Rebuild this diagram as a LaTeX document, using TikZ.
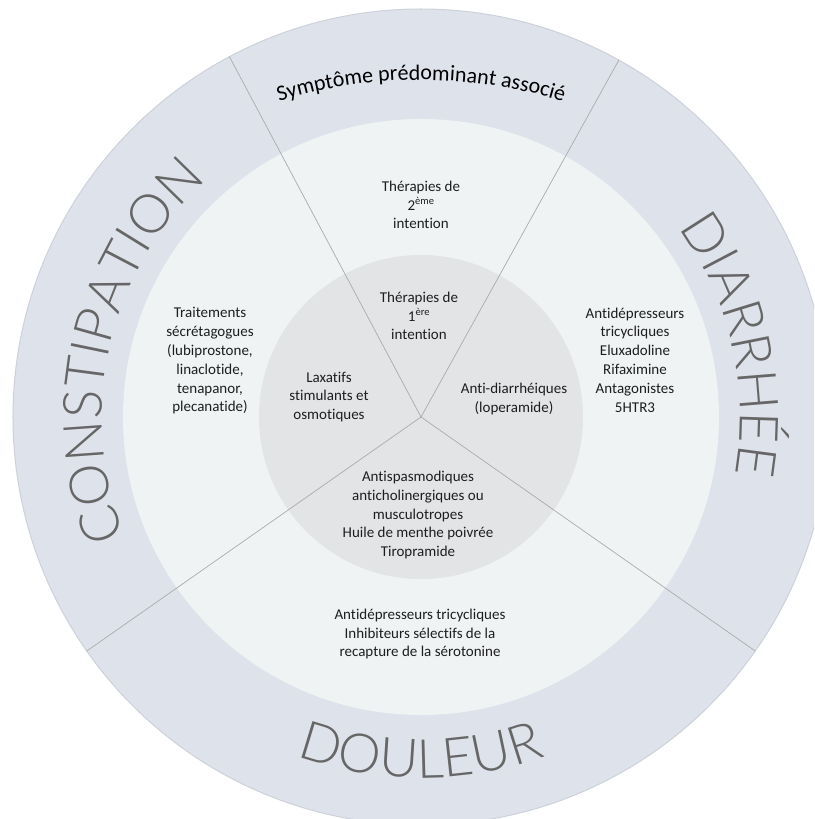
\documentclass[tikz,border=0pt]{standalone}
\usepackage{fontspec}
\setmainfont{Carlito}[Ligatures=NoCommon]
\newfontfamily\biglabelfont{Lato}[UprightFont=* Light, Ligatures=NoCommon, LetterSpace=1]
\usetikzlibrary{decorations.text}
\definecolor{ringout}{HTML}{DEE2EB}
\definecolor{ringedge}{HTML}{CDD1D9}
\definecolor{ringmid}{HTML}{EFF3F4}
\definecolor{ringin}{HTML}{E2E4E6}
\definecolor{spoke}{HTML}{ABABAB}
\definecolor{biglbl}{HTML}{666666}
\definecolor{bodytxt}{HTML}{1E1E1E}
\begin{document}
\begin{tikzpicture}[x=1pt,y=1pt,
  bodytext/.style={align=center, font=\fontsize{15}{18.8}\selectfont, text=bodytxt, inner sep=0pt},
  spokeline/.style={draw=spoke, line width=0.7pt},
]
\clip (-421,-402) rectangle (393,417);
\fill[white] (-421,-402) rectangle (393,417);
\coordinate (c) at (0,0);
% rings
\fill[ringout, draw=ringedge, line width=1pt] (c) circle (408);
\fill[ringmid] (c) circle (298);
\fill[ringin] (c) circle (162);
% spokes
\coordinate (s1) at (61:408);
\coordinate (s2) at (118:408);
\coordinate (s3) at (215:408);
\coordinate (s4) at (-35:408);
\draw[spokeline] (c) -- (s1);
\draw[spokeline] (c) -- (s2);
\draw[spokeline] (c) -- (s3);
\draw[spokeline] (c) -- (s4);
% curved labels
\path[decorate, decoration={text along path, text align=center,
  text={|\biglabelfont\fontsize{54}{60}\selectfont\color{biglbl}|CONSTIPATION}}]
  (214:319) arc[start angle=214, end angle=120, radius=319];
\path[decorate, decoration={text along path, text align=center,
  text={|\biglabelfont\fontsize{54}{60}\selectfont\color{biglbl}|DIARRHÉE}}]
  (59:319) arc[start angle=59, end angle=-33, radius=319];
\path[decorate, decoration={text along path, text align=center,
  text={|\biglabelfont\fontsize{54}{60}\selectfont\color{biglbl}|DOULEUR}}]
  (-128:361) arc[start angle=-128, end angle=-52, radius=361];
\path[decorate, decoration={text along path, text align=center,
  text={|\fontsize{22}{24}\selectfont\color{black}|Symptôme prédominant associé}}]
  (0,-143) ++(112:480) arc[start angle=112, end angle=68, radius=480];
% texts
\node[bodytext] (t2) at (0,212) {Thérapies de\\2\textsuperscript{ème}\\intention};
\node[bodytext] (t1) at (-2,101) {Thérapies de\\1\textsuperscript{ère}\\intention};
\node[bodytext] (sec) at (-211,56) {Traitements\\sécrétagogues\\(lubiprostone,\\linaclotide,\\tenapanor,\\plecanatide)};
\node[bodytext] (lax) at (-92,20) {Laxatifs\\stimulants et\\osmotiques};
\node[bodytext] (anti) at (93,18) {Anti-diarrhéiques\\(loperamide)};
\node[bodytext] (dia) at (214,57) {Antidépresseurs\\tricycliques\\Eluxadoline\\Rifaximine\\Antagonistes\\5HTR3};
\node[bodytext] (spasm) at (-3,-98) {Antispasmodiques\\anticholinergiques ou\\musculotropes\\Huile de menthe poivrée\\Tiropramide};
\node[bodytext] (pain) at (-1,-217) {Antidépresseurs tricycliques\\Inhibiteurs sélectifs de la\\recapture de la sérotonine};
\end{tikzpicture}
\end{document}
